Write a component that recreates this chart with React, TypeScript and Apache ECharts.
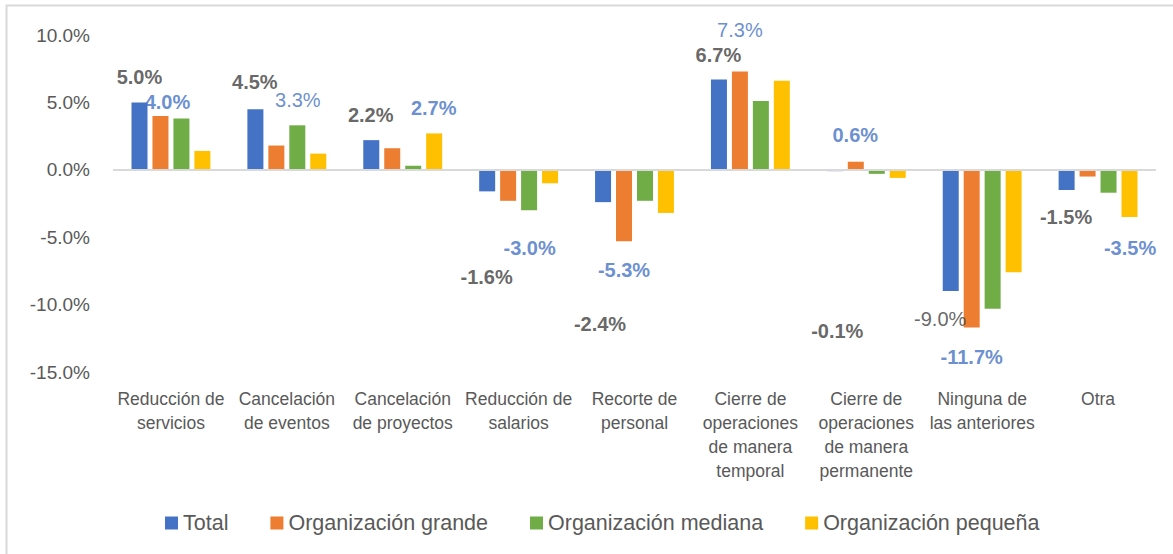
import React, { useEffect, useRef } from "react";
import * as echarts from "echarts";

const categories = [
  "Reducción de\nservicios",
  "Cancelación\nde eventos",
  "Cancelación\nde proyectos",
  "Reducción de\nsalarios",
  "Recorte de\npersonal",
  "Cierre de\noperaciones\nde manera\ntemporal",
  "Cierre de\noperaciones\nde manera\npermanente",
  "Ninguna de\nlas anteriores",
  "Otra",
];

const seriesNames = ["Total", "Organización grande", "Organización mediana", "Organización pequeña"];
const total = [5.0, 4.5, 2.2, -1.6, -2.4, 6.7, -0.1, -9.0, -1.5];
const grande = [4.0, 1.8, 1.6, -2.3, -5.3, 7.3, 0.6, -11.7, -0.5];
const mediana = [3.8, 3.3, 0.3, -3.0, -2.3, 5.1, -0.3, -10.3, -1.7];
const pequena = [1.4, 1.2, 2.7, -1.0, -3.2, 6.6, -0.6, -7.6, -3.5];

const yTicks = { min: -15, max: 10, interval: 5 };

const colors = ["#4472C4", "#ED7D31", "#70AD47", "#FFC000"];

// label styling (offsets in px relative to the value point)
const totalLabelOffset = [
  [-31.5, -25], [-32, -27], [-32, -25], [-32, 86], [-34.5, 122],
  [-32, -24], [-29, 160], [-42, 28], [-32, 27],
];
const totalLabelBold = [true, true, true, true, true, true, true, false, true];
const highlightLabelOffset = [
  [-3.5, -14], [11, -25], [31, -25], [11, 38], [-10.5, 29],
  [-10.5, -41], [-11, -26.5], [-10.5, 29], [32, 31],
];
const highlightLabelBold = [true, false, true, true, true, false, true, true, true];

const orgSeries = [grande, mediana, pequena];
const highlight = categories.map((_, i) => {
  let best = orgSeries[0][i];
  for (const s of orgSeries) if (Math.abs(s[i]) > Math.abs(best)) best = s[i];
  return best;
});

const fmt = (v: number) => v.toFixed(1) + "%";
const FONT = "Liberation Sans, Arial, sans-serif";

export default function App() {
  const ref = useRef<HTMLDivElement>(null);
  useEffect(() => {
    document.body.style.margin = "0";
    const chart = echarts.init(ref.current!, null, { renderer: "svg" });
    const barSeries = [total, grande, mediana, pequena].map((data, k) => ({
      name: seriesNames[k],
      type: "bar",
      data,
      barWidth: 16,
      barGap: "31%",
      itemStyle: { color: colors[k] },
      ...(k === 0
        ? {
            markLine: {
              silent: true,
              symbol: "none",
              label: { show: false },
              lineStyle: { color: "#d9d9d9", width: 2, type: "solid" },
              data: [{ yAxis: 0 }],
            },
          }
        : {}),
    }));
    const labelSeries = (vals: number[], offs: number[][], bold: boolean[], color: string) => ({
      type: "scatter",
      symbolSize: 1,
      itemStyle: { color: "rgba(0,0,0,0)" },
      silent: true,
      z: 5,
      data: vals.map((v, i) => ({
        value: [i, v],
        label: {
          show: true,
          position: "inside",
          offset: offs[i],
          formatter: fmt(v),
          color,
          fontSize: 20,
          fontWeight: bold[i] ? "bold" : "normal",
          fontFamily: FONT,
          align: "center",
          verticalAlign: "middle",
        },
      })),
    });
    chart.setOption({
      animation: false,
      backgroundColor: "#fff",
      textStyle: { fontFamily: FONT },
      graphic: [
        {
          type: "rect",
          shape: { x: 6.5, y: 5.5, width: 1200, height: 600 },
          style: { fill: "none", stroke: "#d9d9d9", lineWidth: 2 },
          silent: true,
          z: -1,
        },
      ],
      grid: { left: 113, right: 17, top: 35, bottom: 182 },
      legend: {
        data: seriesNames,
        left: 160,
        top: 507,
        itemWidth: 13,
        itemHeight: 13,
        itemGap: 42,
        icon: "rect",
        textStyle: { fontSize: 21.5, color: "#595959", fontFamily: FONT },
      },
      xAxis: {
        type: "category",
        data: categories,
        axisLine: { show: false, onZero: false },
        axisTick: { show: false },
        axisLabel: {
          interval: 0,
          margin: 15,
          fontSize: 17.5,
          lineHeight: 24,
          color: "#595959",
          fontFamily: FONT,
        },
      },
      yAxis: {
        type: "value",
        min: yTicks.min,
        max: yTicks.max,
        interval: yTicks.interval,
        splitLine: { show: false },
        axisLine: { show: false },
        axisTick: { show: false },
        axisLabel: {
          formatter: (v: number) => fmt(v),
          fontSize: 19,
          color: "#595959",
          margin: 23,
          fontFamily: FONT,
        },
      },
      series: [
        ...barSeries,
        labelSeries(total, totalLabelOffset, totalLabelBold, "#404040"),
        labelSeries(highlight, highlightLabelOffset, highlightLabelBold, "#4472C4"),
      ],
    });
    return () => chart.dispose();
  }, []);
  return (
    <div
      ref={ref}
      style={{ position: "absolute", left: 0, top: 0, width: 1173, height: 554 }}
    />
  );
}
